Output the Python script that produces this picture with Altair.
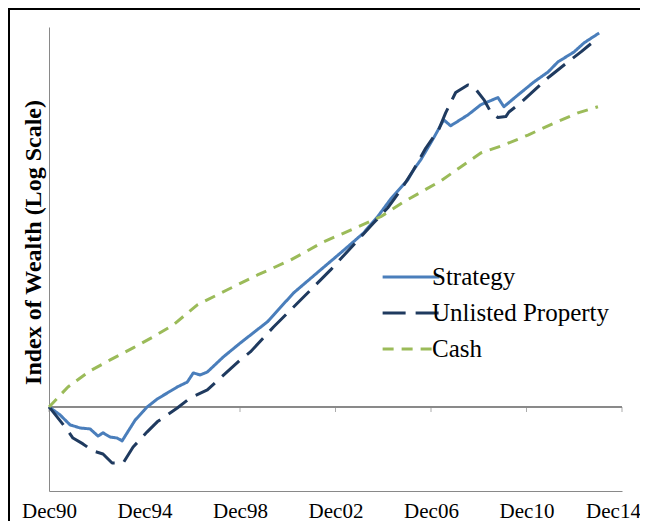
import altair as alt
import pandas as pd

series_names = ["Strategy", "Unlisted Property", "Cash"]
series_colors = ["#4A7EBB", "#1F3A5F", "#9BBB59"]
series_dashes = [[1, 0], [23, 10], [11, 8]]

strategy_t = [1990.92, 1991.38, 1991.80, 1992.22, 1992.64, 1992.97, 1993.18, 1993.48, 1993.77, 1993.98,
              1994.19, 1994.53, 1995.03, 1995.45, 1995.87, 1996.29, 1996.71, 1996.96, 1997.25, 1997.55,
              1998.22, 1998.93, 2000.06, 2001.16, 2002.29, 2003.25, 2004.09, 2004.68, 2005.23, 2005.94,
              2006.19, 2006.49, 2007.03, 2007.45, 2007.74, 2008.46, 2009.00, 2009.72, 2009.97, 2010.56,
              2011.23, 2011.82, 2012.23, 2012.91, 2013.33, 2013.96]
strategy_v = [100.0, 96.4, 92.1, 90.8, 90.4, 87.5, 88.8, 87.1, 86.7, 85.6,
              88.8, 94.2, 100.0, 103.7, 106.6, 109.6, 112.1, 116.9, 115.8, 117.4,
              125.8, 134.1, 147.7, 168.7, 187.5, 205.0, 222.1, 239.3, 259.6, 283.3,
              296.9, 310.9, 343.7, 373.3, 363.2, 381.7, 400.0, 413.4, 396.4, 418.4,
              444.2, 464.9, 486.8, 509.8, 531.5, 556.0]

unlisted_t = [1990.92, 1991.59, 1991.92, 1992.34, 1992.76, 1993.18, 1993.56, 1994.02, 1994.44, 1995.03,
              1995.45, 1996.29, 1996.83, 1997.55, 1998.09, 1998.93, 1999.35, 2000.32, 2001.58, 2002.71,
              2003.67, 2004.51, 2005.10, 2005.65, 2006.19, 2006.70, 2007.24, 2007.53, 2007.95, 2008.46,
              2008.71, 2009.13, 2009.42, 2009.72, 2010.05, 2010.18, 2010.68, 2011.40, 2011.86, 2012.65,
              2013.20, 2013.91]
unlisted_v = [100.0, 91.2, 86.7, 84.4, 81.7, 80.6, 77.3, 77.3, 83.2, 89.2,
              93.4, 99.5, 104.2, 108.1, 114.2, 124.1, 128.7, 144.3, 165.6, 187.5,
              210.3, 232.5, 249.1, 270.6, 296.9, 328.0, 356.8, 385.3, 423.2, 438.1,
              434.2, 409.6, 387.0, 377.2, 378.9, 387.0, 403.9, 434.2, 454.4, 486.8,
              509.8, 543.7]

cash_t = [1990.92, 1991.71, 1992.64, 1993.48, 1994.44, 1995.28, 1996.12, 1997.13, 1998.39, 1999.65,
          2001.03, 2002.41, 2003.84, 2004.81, 2005.77, 2007.32, 2008.16, 2009.00, 2009.97, 2010.98,
          2012.07, 2013.07, 2013.91]
cash_v = [100.0, 109.6, 118.0, 124.1, 131.1, 137.9, 145.7, 159.7, 171.2, 183.2,
          196.1, 213.2, 228.2, 239.3, 256.1, 282.0, 300.6, 320.6, 332.6, 348.1,
          367.7, 385.3, 396.4]

tick_years = [1990.917, 1994.917, 1998.917, 2002.917, 2006.917, 2010.917, 2014.917]
tick_labels = ["Dec90", "Dec94", "Dec98", "Dec02", "Dec06", "Dec10", "Dec14"]

rows = []
for name, ts, vs in [("Strategy", strategy_t, strategy_v),
                     ("Unlisted Property", unlisted_t, unlisted_v),
                     ("Cash", cash_t, cash_v)]:
    for i, (t, v) in enumerate(zip(ts, vs)):
        rows.append({"series": name, "year": t, "index": v, "order": i})
df = pd.DataFrame(rows)
ticks_df = pd.DataFrame({"year": tick_years})
frame_df = pd.DataFrame({"a": [0]})

FONT = "Liberation Serif"
GRAY = "#898989"

label_expr = "[" + ",".join("'" + s + "'" for s in tick_labels) + "][round((datum.value - 1990.917) / 4)]"

x_scale = alt.Scale(domain=[1990.917, 2014.917], nice=False, zero=False)
y_scale = alt.Scale(type="log", domain=[68, 571.5], nice=False)

x_enc = alt.X("year:Q", scale=x_scale,
              axis=alt.Axis(values=tick_years, labelExpr=label_expr, title=None, grid=False,
                            ticks=False, domain=True, domainColor=GRAY, domainWidth=1,
                            labelFont=FONT, labelFontSize=21, labelColor="black",
                            labelPadding=9, labelFlush=False, labelOverlap=False,
                            labelOffset={"condition": {"test": "datum.value > 2014", "value": -9},
                                         "value": 0}))
y_enc = alt.Y("index:Q", scale=y_scale,
              axis=alt.Axis(title="Index of Wealth (Log Scale)", labels=False, ticks=False,
                            grid=False, domain=True, domainColor=GRAY, domainWidth=1,
                            titleFont=FONT, titleFontSize=24, titleFontWeight="bold",
                            titleColor="black", titleX=-9, titleY=215,
                            titleBaseline="alphabetic", titleAngle=270))

legend_cfg = dict(title=None, orient="none", legendX=346, legendY=234,
                  symbolType="M-2,0L2,0", symbolSize=805,
                  symbolStrokeWidth=3, labelFont=FONT, labelFontSize=25,
                  labelColor="black", labelOffset=5, rowPadding=7,
                  labelLimit=400)

base_rule = alt.Chart(ticks_df).mark_rule(color=GRAY, strokeWidth=1).encode(
    y=alt.datum(100, scale=y_scale),
    x=alt.value(0), x2=alt.value(573)
)

tick_marks = alt.Chart(ticks_df).mark_tick(color=GRAY, thickness=1, size=5, orient="vertical", yOffset=2.5).encode(
    x=alt.X("year:Q", scale=x_scale),
    y=alt.datum(100, scale=y_scale)
)

lines = alt.Chart(df).mark_line(strokeWidth=3, strokeCap="butt", strokeJoin="round").encode(
    x=x_enc,
    y=y_enc,
    order="order:Q",
    color=alt.Color("series:N", sort=series_names,
                    scale=alt.Scale(domain=series_names, range=series_colors),
                    legend=alt.Legend(**legend_cfg)),
    strokeDash=alt.StrokeDash("series:N", sort=series_names,
                              scale=alt.Scale(domain=series_names, range=series_dashes),
                              legend=alt.Legend(**legend_cfg)),
)

frame = alt.Chart(frame_df).mark_rect(fillOpacity=0, stroke="black", strokeWidth=2).encode(
    x=alt.value(-40), x2=alt.value(760), y=alt.value(-18), y2=alt.value(700)
)

chart = alt.layer(base_rule, tick_marks, lines, frame).properties(
    width=573, height=464,
    autosize=alt.AutoSizeParams(type="none"),
    padding={"left": 41, "top": 19, "right": 18, "bottom": 30},
).configure_view(strokeWidth=0)

chart.save("out.html", embed_options={"renderer": "svg", "actions": False})
